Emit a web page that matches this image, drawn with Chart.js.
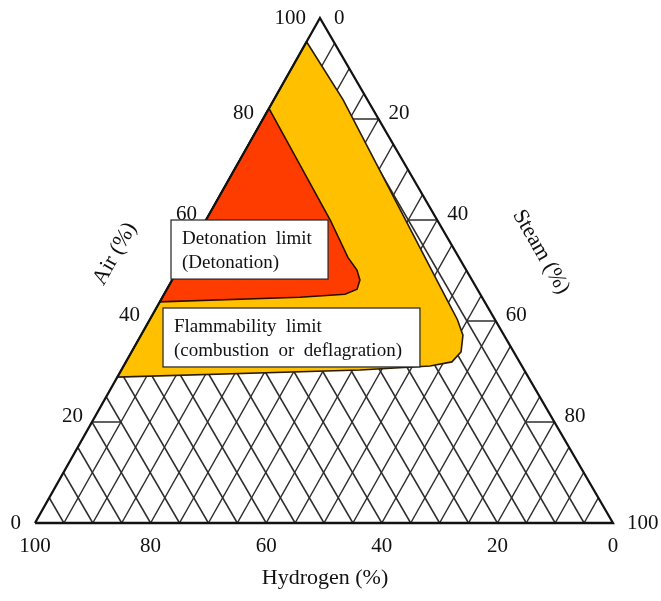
<!DOCTYPE html>
<html>
<head>
<meta charset="utf-8">
<script src="https://cdn.jsdelivr.net/npm/chart.js@4.4.1/dist/chart.umd.min.js"></script>
<style>
  html, body { margin: 0; padding: 0; background: #ffffff; }
  #wrap { width: 661px; height: 601px; }
</style>
</head>
<body>
<div id="wrap"><canvas id="tern" width="661" height="601"></canvas></div>
<script>
// Ternary composition diagram: hydrogen / air / steam (percent by volume)
const tickValues = [0, 20, 40, 60, 80, 100];
const innerTickValues = [20, 40, 60, 80];
const gridStep = 5;

// Flammability limit boundary as [hydrogen %, steam %]; air is the remainder
const flammHydrogen = [4.7, 4.2, 6.3, 6.5, 7.1, 9.1, 11.7, 15.9, 28.4, 71.1];
const flammSteam    = [0.0, 12.0, 49.5, 53.2, 55.7, 57.0, 56.4, 53.0, 41.3, 0.0];

// Detonation limit boundary as [hydrogen %, steam %]
const detHydrogen = [17.9, 18.5, 19.2, 18.9, 19.4, 20.8, 23.4, 31.5, 56.2];
const detSteam    = [0.0, 21.5, 28.2, 31.0, 32.5, 32.9, 31.3, 23.8, 0.0];

const titles = { hydrogen: 'Hydrogen (%)', air: 'Air (%)', steam: 'Steam (%)' };
const detLines = ['Detonation  limit', '(Detonation)'];
const flamLines = ['Flammability  limit', '(combustion  or  deflagration)'];

// horizontal position of the air apex relative to the base (0.5 = symmetric)
const APEX = 0.493;
const TICK_LEN = 5; // length of edge tick marks, in percent

// (hydrogen, steam) -> plot units; air = 100 - hydrogen - steam
function tern(h, s) {
  const a = 100 - h - s;
  return { x: (s + APEX * a) / 100, y: a / 100 };
}

function lineSet(points, style, order) {
  return Object.assign({
    data: points,
    showLine: true,
    pointRadius: 0,
    pointHoverRadius: 0,
    fill: false,
    tension: 0,
    clip: false,
    order: order
  }, style);
}

const gridStyle = { borderColor: '#2e2e2e', borderWidth: 1.5 };
const frameStyle = { borderColor: '#121212', borderWidth: 2.3 };
const datasets = [];

// diamond lattice: constant-hydrogen and constant-steam lines
for (let v = gridStep; v < 100; v += gridStep) {
  datasets.push(lineSet([tern(v, 0), tern(v, 100 - v)], gridStyle, 5));
  datasets.push(lineSet([tern(0, v), tern(100 - v, v)], gridStyle, 5));
}

// edge tick marks (horizontal, pointing inward)
innerTickValues.forEach(v => {
  datasets.push(lineSet([tern(100 - v, 0), tern(100 - v - TICK_LEN, TICK_LEN)], gridStyle, 4));
  datasets.push(lineSet([tern(0, v), tern(TICK_LEN, v - TICK_LEN)], gridStyle, 4));
});

// flammability region
const flamPts = flammHydrogen.map((h, i) => tern(h, flammSteam[i]));
flamPts.push(flamPts[0]);
datasets.push(lineSet(flamPts, {
  borderColor: '#2a1c00', borderWidth: 1.6,
  backgroundColor: '#FFC000', fill: 'shape'
}, 3));

// detonation region
const detPts = detHydrogen.map((h, i) => tern(h, detSteam[i]));
detPts.push(detPts[0]);
datasets.push(lineSet(detPts, {
  borderColor: '#2a0c00', borderWidth: 1.6,
  backgroundColor: '#FF3C00', fill: 'shape'
}, 2));

// triangle frame
datasets.push(lineSet([tern(100, 0), tern(0, 0), tern(0, 100), tern(100, 0)], frameStyle, 1));

const SERIF = '"Liberation Serif", "Times New Roman", Times, serif';

const labelsPlugin = {
  id: 'ternaryLabels',
  afterDatasetsDraw(chart) {
    const { ctx } = chart;
    const sx = chart.scales.x, sy = chart.scales.y;
    const px = p => ({ X: sx.getPixelForValue(p.x), Y: sy.getPixelForValue(p.y) });
    ctx.save();
    ctx.fillStyle = '#111111';
    ctx.textBaseline = 'middle';
    ctx.font = '21px ' + SERIF;

    tickValues.forEach(v => {
      const corner = (v === 0 || v === 100);
      // hydrogen along the base
      const b = px(tern(v, 100 - v));
      ctx.textAlign = 'center';
      ctx.fillText(String(v), b.X, b.Y + 23);
      // air along the left edge
      const l = px(tern(100 - v, 0));
      ctx.textAlign = 'right';
      ctx.fillText(String(v), l.X - (corner ? 14 : 9), l.Y - (corner ? 0 : 6));
      // steam along the right edge
      const r = px(tern(0, v));
      ctx.textAlign = 'left';
      ctx.fillText(String(v), r.X + (corner ? 14 : 10), r.Y - (corner ? 0 : 6));
    });

    // axis titles
    ctx.font = '22px ' + SERIF;
    ctx.textAlign = 'center';
    const hb = px({ x: 0.5017, y: -0.109 });
    ctx.fillText(titles.hydrogen, hb.X, hb.Y);

    const at = px({ x: 0.1384, y: 0.533 });
    ctx.save();
    ctx.translate(at.X, at.Y);
    ctx.rotate(-60.6 * Math.PI / 180);
    ctx.fillText(titles.air, 0, 0);
    ctx.restore();

    const st = px({ x: 0.8754, y: 0.5366 });
    ctx.save();
    ctx.translate(st.X, st.Y);
    ctx.rotate(59.9 * Math.PI / 180);
    ctx.fillText(titles.steam, 0, 0);
    ctx.restore();

    // annotation boxes
    const drawBox = (tl, br, lines) => {
      const a = px(tl), b = px(br);
      ctx.fillStyle = '#ffffff';
      ctx.fillRect(a.X, a.Y, b.X - a.X, b.Y - a.Y);
      ctx.strokeStyle = '#222222';
      ctx.lineWidth = 1.2;
      ctx.strokeRect(a.X, a.Y, b.X - a.X, b.Y - a.Y);
      ctx.fillStyle = '#111111';
      ctx.font = '19px ' + SERIF;
      ctx.textAlign = 'left';
      lines.forEach((t, i) => ctx.fillText(t, a.X + 11, a.Y + 19 + i * 24));
    };
    drawBox({ x: 0.2353, y: 0.600 }, { x: 0.507, y: 0.483 }, detLines);
    drawBox({ x: 0.2215, y: 0.4257 }, { x: 0.666, y: 0.309 }, flamLines);

    ctx.restore();
  }
};

new Chart(document.getElementById('tern'), {
  type: 'scatter',
  data: { datasets },
  options: {
    responsive: false,
    animation: false,
    devicePixelRatio: 1,
    layout: { padding: { left: 35, top: 18, right: 48, bottom: 78 } },
    scales: {
      x: { type: 'linear', min: 0, max: 1, display: false },
      y: { type: 'linear', min: 0, max: 1, display: false }
    },
    plugins: { legend: { display: false }, tooltip: { enabled: false } },
    events: []
  },
  plugins: [labelsPlugin]
});
</script>
</body>
</html>
